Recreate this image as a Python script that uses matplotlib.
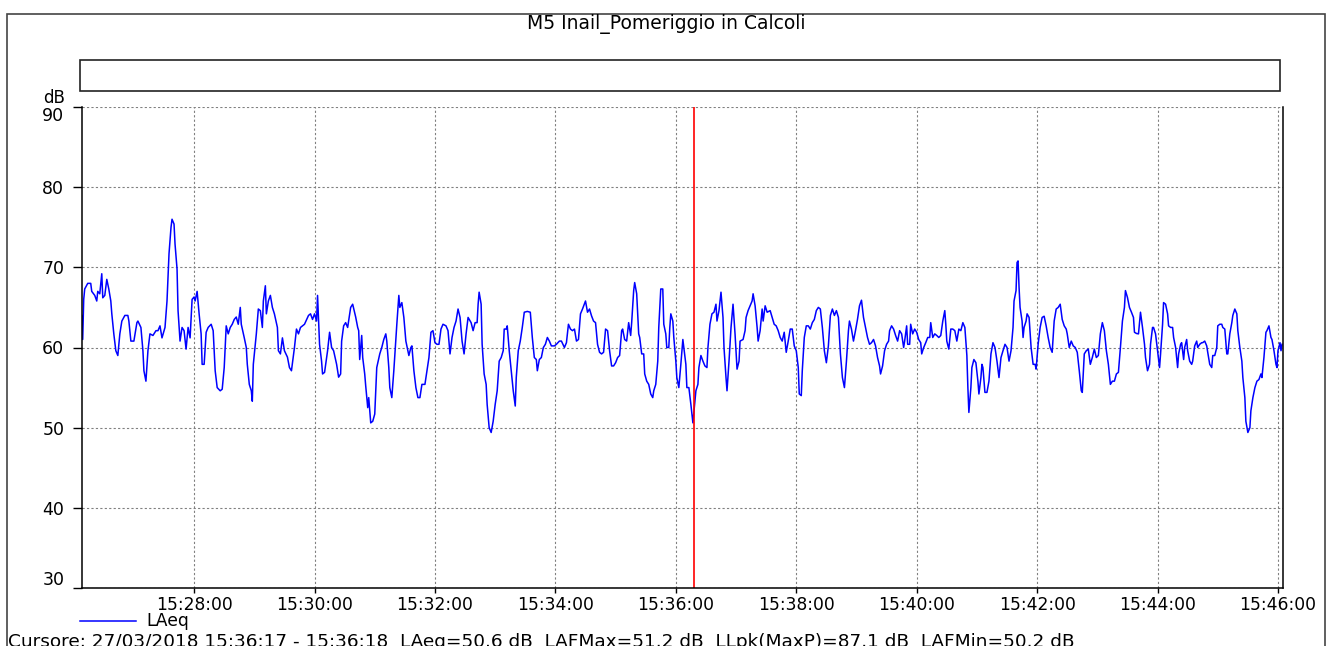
import numpy as np
import matplotlib
matplotlib.use('Agg')
import matplotlib.pyplot as plt
import matplotlib.dates as mdates
import matplotlib.transforms as mtransforms
from matplotlib.patches import Rectangle

W, H = 1331, 646

title = 'M5 Inail_Pomeriggio in Calcoli'
start = np.datetime64('2018-03-27T15:26:00')
cursor_time = np.datetime64('2018-03-27T15:36:18')
cursor_text = ('Cursore: 27/03/2018 15:36:17 - 15:36:18  LAeq=50.6 dB  LAFMax=51.2 dB  '
               'LLpk(MaxP)=87.1 dB  LAFMin=50.2 dB')
series_name = 'LAeq'
y_unit = 'dB'
yticks = [30, 40, 50, 60, 70, 80, 90]

# seconds after 15:26:00
secs = [
    8, 9, 10, 11, 14, 17, 18, 21, 23, 24, 26, 28, 29, 31, 33, 35, 37, 38, 40, 42,
    44, 46, 48, 51, 54, 55, 57, 60, 63, 64, 67, 69, 70, 72, 74, 76, 79, 82, 84, 86,
    88, 91, 93, 95, 97, 98, 100, 101, 103, 104, 106, 108, 110, 112, 114, 116, 118, 120, 121, 123,
    125, 127, 128, 130, 132, 134, 137, 139, 141, 143, 146, 148, 150, 152, 154, 156, 158, 160, 162, 164,
    166, 167, 170, 172, 173, 175, 177, 178, 179, 182, 184, 186, 188, 189, 191, 192, 194, 196, 198, 200,
    203, 204, 206, 208, 210, 213, 215, 217, 220, 222, 224, 226, 230, 234, 236, 238, 240, 242, 243, 245,
    247, 248, 250, 253, 255, 257, 259, 262, 264, 266, 267, 269, 271, 273, 276, 278, 281, 283,
    284, 285, 287, 288, 290, 291, 293, 294, 296, 298, 300, 302, 305, 307, 309, 311, 312, 314, 315, 317,
    319, 322, 324, 325, 327, 329, 331, 334, 336, 337, 339, 341, 343, 345, 347, 350, 352, 354, 356, 358,
    360, 362, 364, 366, 368, 371, 373, 375, 377, 379, 381, 383, 385, 387, 389, 391, 393, 396, 398, 400,
    402, 403, 404, 406, 407, 409, 411, 412, 414, 416, 418, 420, 422, 424, 426, 428, 429, 431, 432, 434,
    436, 438, 440, 441, 443, 445, 447, 449, 452, 455, 457, 459, 461, 462, 464, 466, 468, 470, 472, 474,
    476, 479, 481, 484, 486, 489, 491, 493, 495, 497, 499, 501, 503, 505, 507, 510, 512, 514, 516, 518,
    520, 522, 524, 526, 528, 530, 532, 534, 536, 538, 540, 542,
    544, 546, 547, 549, 551, 553, 555, 556, 558, 559, 561, 563, 564, 566, 568, 569, 571, 573, 575, 577,
    578, 580, 582, 583, 585, 587, 588, 590, 591, 593, 594, 595, 597, 598, 600, 601, 603, 605, 607, 608,
    610, 611, 613, 615, 616, 617, 618, 620, 622, 623, 625, 627, 629, 631, 632, 634, 636, 638, 640, 641,
    643, 645, 647, 648, 650, 651, 653, 655, 657, 659, 661, 663, 664, 667, 669, 670, 672, 674, 676, 677,
    679, 681, 682, 684, 686, 687, 689, 691, 694, 696, 698, 700, 702, 704, 706, 708, 710, 712, 714, 716,
    718, 720, 722, 723, 725, 726, 728, 730, 732, 734, 736, 738, 740, 742, 744, 746, 748, 750, 752, 754,
    756, 758, 760, 762, 764, 766, 768, 770, 772, 773, 775, 777, 779, 781, 783, 785, 787, 789, 791, 793,
    795, 797, 799, 801, 803, 804, 806, 808, 810, 812,
    813, 815, 817, 819, 821, 823, 825, 827, 828, 830, 831, 833, 834, 836, 838, 840, 842, 844, 845, 847,
    849, 851, 853, 854, 856, 858, 860, 862, 864, 866, 868, 869, 870, 872, 874, 876, 878, 880, 882, 884,
    886, 888, 890, 891, 892, 894, 895, 897, 899, 901, 902, 904, 905, 906, 908, 910, 912, 914, 916, 918,
    920, 922, 924, 926, 928, 930, 932, 934, 936, 937, 939, 940, 941, 942, 943, 945, 946, 947, 949, 950,
    952, 954, 956, 958, 959, 961, 963, 965, 967, 969, 971, 973, 975, 977, 979, 981, 983, 985, 987, 989,
    990, 992, 994, 996, 998, 1000, 1002, 1004, 1005, 1007, 1009, 1011, 1013, 1015, 1017, 1019, 1021, 1023, 1025, 1027,
    1029, 1031, 1033, 1035, 1037, 1039, 1041, 1043, 1045, 1047, 1048, 1050, 1052,
    1054, 1056, 1057, 1059, 1061, 1063, 1065, 1067, 1068, 1070, 1072, 1073, 1075, 1076, 1078, 1080, 1082, 1083, 1085, 1086,
    1088, 1090, 1091, 1093, 1095, 1096, 1098, 1100, 1101, 1103, 1104, 1106, 1107, 1109, 1110, 1112, 1114, 1115, 1117, 1119,
    1120, 1122, 1124, 1125, 1127, 1129, 1130, 1132, 1134, 1135, 1137, 1139, 1140, 1142, 1144, 1145, 1147, 1149, 1150, 1152,
    1154, 1155, 1157, 1159, 1160, 1162, 1164, 1165, 1167, 1168, 1170, 1172, 1173, 1175, 1177, 1179, 1181, 1183, 1184, 1186,
    1188, 1189, 1191, 1193, 1194, 1196, 1198, 1199, 1200, 1202, 1203, 1204,
]

laeq = [
    64, 61, 66, 67.3, 68, 68, 67, 66.5, 65.8, 67, 66.7, 69.2, 66.2, 66.5, 68.5, 67.3, 65.8, 64.2, 61.7, 59.6,
    59, 61.7, 63.3, 64, 64, 63.3, 60.8, 60.8, 63.1, 63.3, 62.5, 59.6, 57.1, 55.8, 59.6, 61.7, 61.5, 62.1, 62.1, 62.7,
    61.2, 62.5, 65.8, 71.7, 75, 76, 75.4, 72.9, 69.8, 64.6, 60.8, 62.5, 62.1, 59.8, 62.5, 61.2, 66, 66.3, 65.8, 67,
    64.2, 61.7, 57.9, 57.9, 61.9, 62.5, 62.9, 62.1, 57.1, 55, 54.6, 54.8, 57.5, 62.7, 61.7, 62.5, 62.9, 63.5, 63.8, 62.9,
    65, 62.9, 61.2, 60, 57.9, 55.4, 54.6, 53.3, 57.9, 61.7, 64.8, 64.6, 62.5, 65.8, 67.7, 64.2, 65.8, 66.5, 65, 64.2,
    62.5, 59.6, 59.2, 61.2, 59.6, 58.8, 57.5, 57.1, 60, 62.3, 61.7, 62.5, 62.9, 64, 64.2, 63.5, 64.2, 63.3, 66.5, 60.4,
    58.3, 56.7, 56.9, 59.6, 61.9, 60, 59.6, 57.9, 56.3, 56.7, 60.8, 62.7, 63.1, 62.5, 65, 65.4, 63.8, 62.5,
    62.1, 58.5, 61.5, 58.75, 56.7, 55.2, 52.5, 53.75, 50.6, 50.8, 51.7, 57.5, 59.2, 60, 61, 61.7, 60.8, 57.5, 55, 53.75,
    57.1, 62.9, 66.5, 65, 65.6, 63.75, 60.8, 59, 60, 60.2, 57.1, 55, 53.75, 53.75, 55.4, 55.4, 57.1, 58.75, 61.9, 62.1,
    60.6, 60.4, 60.4, 62.3, 62.9, 62.7, 62.1, 59.2, 61.25, 62.5, 63.3, 64.8, 63.75, 60.8, 59.2, 61.7, 63.75, 63.1, 62.1, 63.1,
    63.1, 65.4, 66.9, 65.4, 60.4, 56.7, 55.4, 52.9, 50, 49.4, 50.8, 52.9, 54.6, 58.3, 58.75, 59.6, 62.3, 62.3, 62.7, 59.6,
    57.1, 54.6, 52.7, 56.25, 59.6, 60.8, 62.5, 64.4, 64.5, 64.4, 61.25, 58.75, 58.5, 57.1, 58.5, 58.75, 60, 60.4, 61.25, 60.8,
    60.2, 60.2, 60.4, 60.8, 60.8, 60, 60.6, 62.9, 62.3, 62.1, 62.3, 60.8, 61, 64.2, 64.8, 65.8, 64.4, 64.8, 63.95, 63.3,
    63.1, 60.4, 59.4, 59.2, 59.4, 62.3, 62.1, 59.6, 57.7, 57.7, 58.1, 58.75,
    59, 62.1, 62.3, 61, 60.8, 63.1, 61.5, 63.1, 67.1, 68.1, 66.7, 61.7, 61.25, 59.2, 59.2, 56.7, 55.8, 55.4, 54.2, 53.75,
    54.6, 55.4, 58.3, 62.5, 67.3, 67.3, 62.9, 61.7, 60, 60, 62.5, 64.2, 63.3, 61.25, 58.3, 56.25, 55, 57.9, 61, 60,
    57.9, 55, 55, 52.9, 51.7, 50.6, 51.9, 54.6, 55.4, 57.5, 59, 58.3, 57.7, 57.5, 60, 62.9, 64.2, 64.4, 65.4, 63.3,
    64.6, 66.9, 63.75, 60, 56.25, 54.6, 58.3, 62.5, 65.4, 61.7, 57.3, 58.3, 60.8, 61, 62.1, 63.75, 64.6, 65.2, 65.8, 66.7,
    65.2, 62.5, 60.8, 62.1, 64.8, 63.3, 65.2, 64.4, 64.6, 63.75, 62.9, 62.7, 62.1, 61.25, 60.8, 61.9, 59.4, 60.8, 62.3, 62.3,
    60.2, 59.6, 57.5, 54.2, 54, 57.1, 61.25, 62.7, 62.7, 62.3, 63.1, 63.5, 64.6, 65, 64.8, 62.5, 59.6, 58.1, 60.2, 64,
    64.8, 64, 64.6, 63.75, 59.2, 56.25, 55, 58.3, 62.1, 63.3, 62.3, 60.8, 62.1, 63.5, 65.2, 65.9, 63.75, 62.5, 61.25, 60.4,
    60.6, 61, 60.2, 58.75, 57.7, 56.7, 57.7, 59.6, 60.4, 60.8,
    62.1, 62.7, 62.3, 61.5, 60.8, 62.1, 61.7, 60, 60.8, 62.7, 60.4, 60.4, 62.9, 61.7, 62.3, 61.9, 61, 60.6, 59.2, 60,
    60.6, 61.25, 61.25, 63.1, 61.25, 61.7, 61.5, 61.25, 61.5, 63.3, 64.6, 62.9, 60.8, 59.8, 62.3, 62.3, 62.1, 60.8, 62.3, 62.1,
    63.1, 62.5, 59, 55, 51.9, 55, 57.5, 58.5, 58.1, 55.8, 54.2, 56.25, 57.9, 57.5, 54.4, 54.4, 55.8, 59.2, 60.6, 60,
    58.3, 56.25, 58.75, 59.6, 60.4, 60, 58.3, 59.6, 62.5, 65.8, 67.1, 70.6, 70.8, 67.5, 65, 63.3, 61.25, 62.5, 63.3, 64.2,
    63.75, 60, 57.9, 57.9, 57.3, 60.4, 62.5, 63.75, 63.9, 62.7, 61.25, 60, 59.4, 63.3, 64.8, 65, 65.4, 63.5, 62.7, 62.3,
    61.7, 60, 60.8, 60.2, 60, 59.4, 57.1, 54.6, 54.4, 59.2, 59.6, 59.8, 57.9, 58.75, 59.8, 58.75, 59, 61.7, 63.1, 62.1,
    59.6, 57.9, 55.4, 55.8, 55.8, 56.7, 56.9, 60, 63.3, 65, 67.1, 66.25, 65,
    64.4, 63.75, 61.9, 61.75, 61.7, 64.4, 62.5, 60.4, 58.75, 57.1, 57.9, 60.4, 62.5, 62.5, 61.7, 59.6, 57.5, 59.2, 62.9, 65.6,
    65.4, 64.2, 62.7, 62.5, 62.5, 61.25, 60, 57.5, 59.2, 60.4, 60.6, 58.5, 60, 61, 59.6, 58.3, 57.9, 58.3, 60.2, 60.8,
    60, 60.4, 60.6, 60.6, 60.8, 60.2, 59.4, 57.9, 57.5, 59, 59, 60, 62.7, 62.9, 62.9, 62.5, 62.3, 59.2, 59.2, 61.7,
    63.1, 64, 64.8, 64.2, 62.1, 60, 58.3, 56.25, 53.75, 50.8, 49.4, 50, 52.1, 53.75, 55, 55.8, 56, 56.7, 56.25, 58.75,
    61.9, 62.1, 62.7, 61.25, 61, 59.6, 57.9, 57.5, 59.6, 60.6, 59.6, 60.4,
]

times = start + np.array(secs).astype('timedelta64[s]')


def fx(x):
    return x / W


def fy(y):
    return 1 - y / H


fig = plt.figure(figsize=(W / 100, H / 100), dpi=100)

# outer frame (runs off the bottom) and the empty header box
fig.patches.append(Rectangle((fx(7), fy(720)), fx(1325) - fx(7), fy(14) - fy(720),
                             transform=fig.transFigure, fill=False, ec='#444444', lw=1.2))
fig.patches.append(Rectangle((fx(80), fy(91)), fx(1280) - fx(80), fy(60) - fy(91),
                             transform=fig.transFigure, fill=False, ec='#222222', lw=1.2))

fig.text(fx(666), fy(24), title, ha='center', va='center', fontsize=13.5)
fig.text(fx(65), fy(98), y_unit, ha='right', va='center', fontsize=12)

ax = fig.add_axes([fx(81.7), fy(588), (1283 - 81.7) / W, (588 - 107) / H])
ax.plot(times, laeq, color='#0000ff', lw=1.1, label=series_name)
ax.axvline(cursor_time, color='#ff0000', lw=1.2)

ax.set_ylim(30, 90)
ax.set_yticks(yticks)
ax.set_xlim(start + np.timedelta64(8, 's'), start + np.timedelta64(1205, 's'))
ax.xaxis.set_major_locator(mdates.MinuteLocator(byminute=range(0, 60, 2)))
ax.xaxis.set_major_formatter(mdates.DateFormatter('%H:%M:%S'))

ax.grid(True, color='#808080', ls=(0, (2, 2)), lw=0.8)
ax.spines['top'].set_visible(False)
for s in ['left', 'right', 'bottom']:
    ax.spines[s].set_linewidth(1.1)
ax.tick_params(axis='y', length=6.5, width=1, pad=6, labelsize=12.5)
ax.tick_params(axis='x', length=3.6, width=1, pad=2, labelsize=12.3)

# end labels sit inside the axis range, like in the original software
ylabels = ax.get_yticklabels()
ylabels[-1].set_transform(ylabels[-1].get_transform() +
                          mtransforms.ScaledTranslation(0, -0.07, fig.dpi_scale_trans))
ylabels[0].set_transform(ylabels[0].get_transform() +
                         mtransforms.ScaledTranslation(0, 0.10, fig.dpi_scale_trans))

ax.legend(loc='center left', bbox_to_anchor=(fx(80), fy(621.5)), bbox_transform=fig.transFigure,
          frameon=False, borderpad=0, borderaxespad=0, handlelength=3.3, handletextpad=0.6,
          fontsize=12.3)

fig.text(fx(8), fy(633), cursor_text, ha='left', va='top', fontsize=13.3)

plt.savefig('out.png', dpi=100)
